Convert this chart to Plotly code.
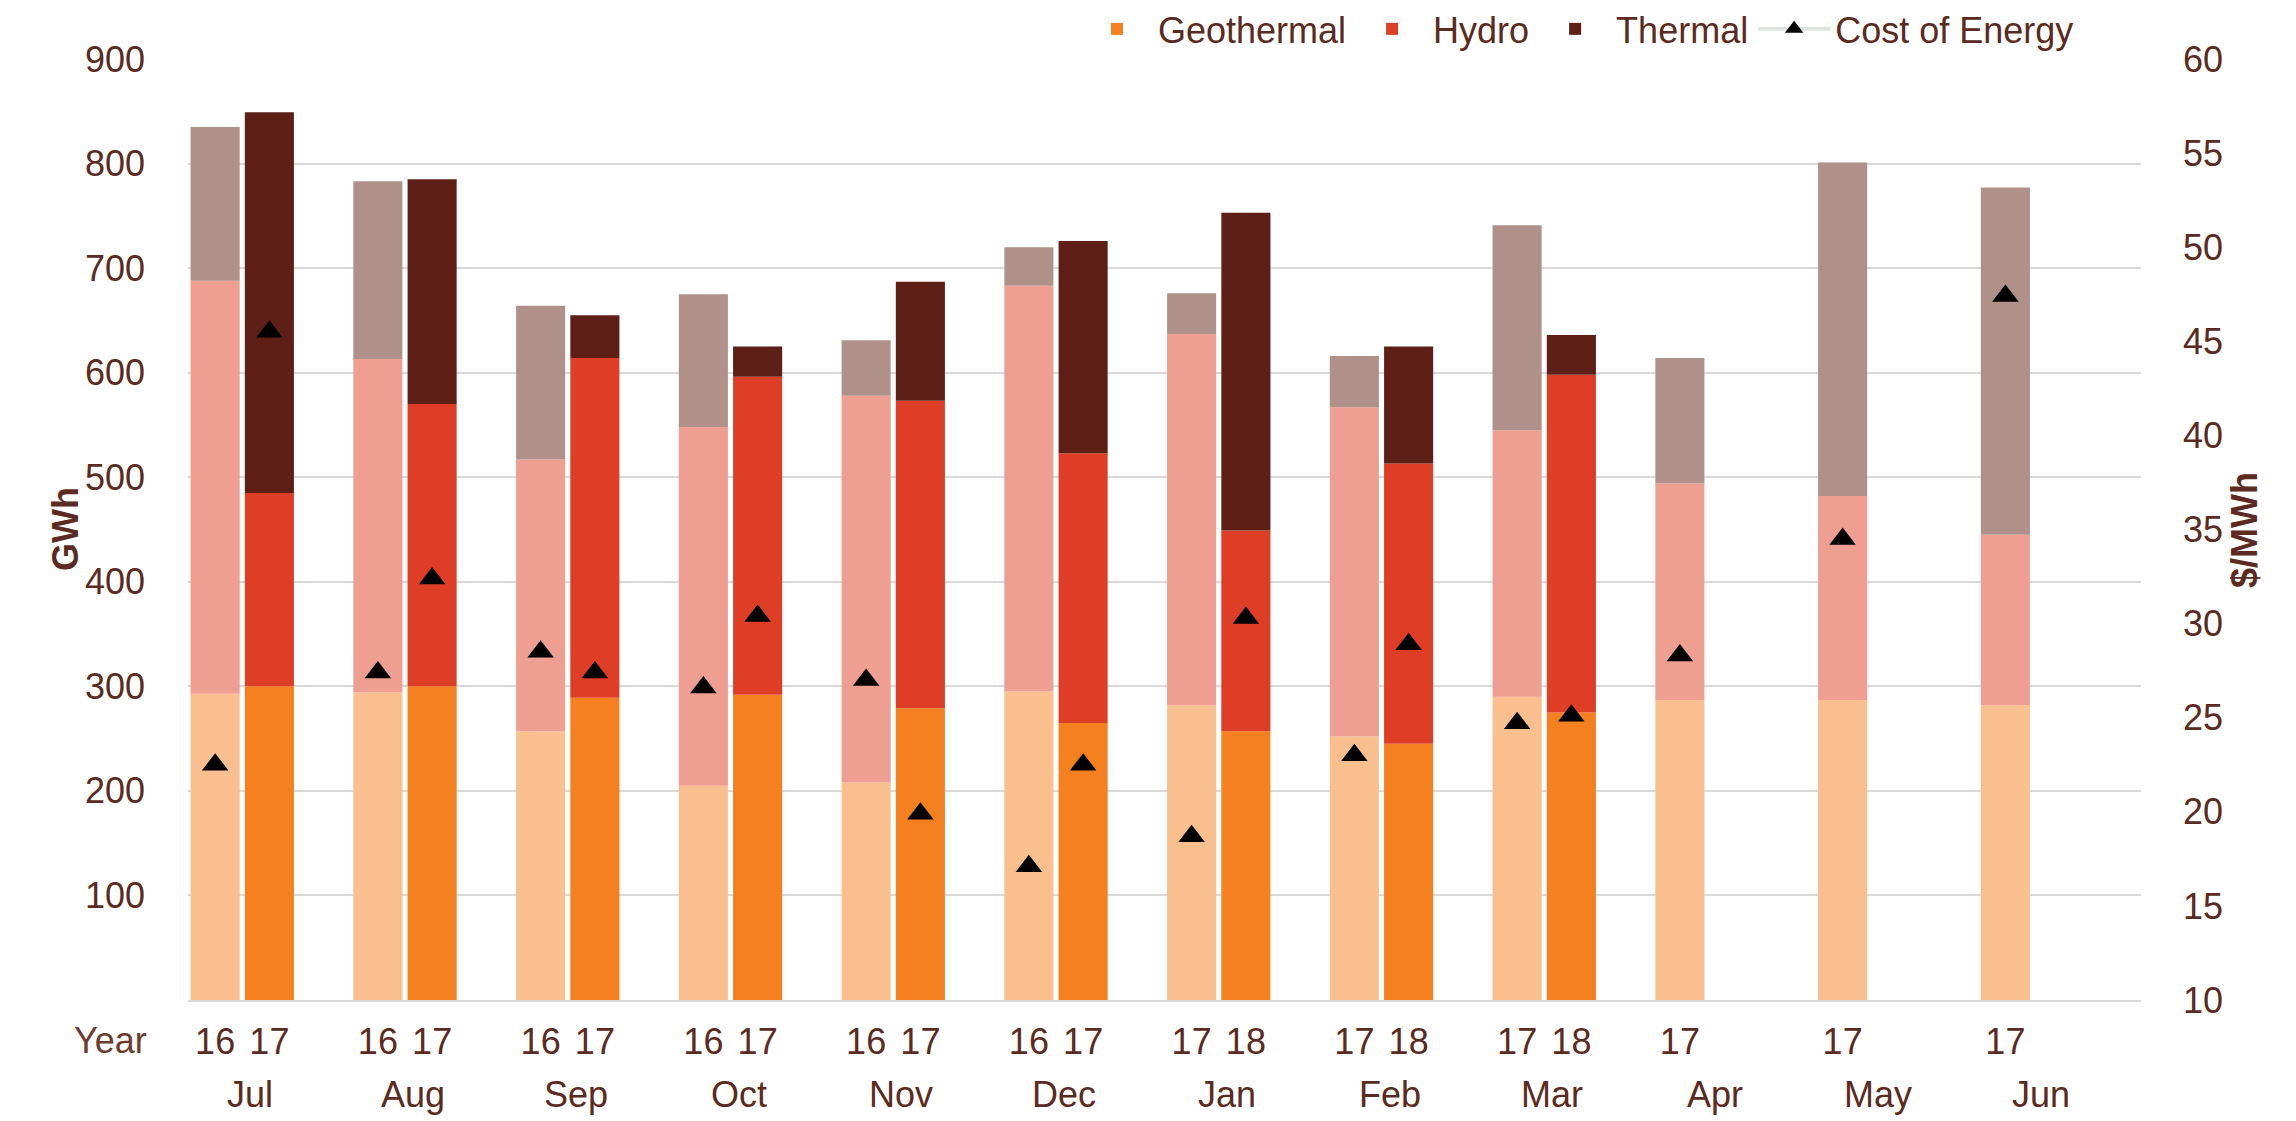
import plotly.graph_objects as go

# categories
months = ["Jul", "Aug", "Sep", "Oct", "Nov", "Dec", "Jan", "Feb", "Mar", "Apr", "May", "Jun"]
year_prev = ["16", "16", "16", "16", "16", "16", "17", "17", "17", "17", "17", "17"]
year_cur = ["17", "17", "17", "17", "17", "17", "18", "18", "18", "", "", ""]

# generation, GWh (previous year)
geo_prev = [293, 294, 257, 205, 208, 295, 282, 252, 290, 287, 287, 282]
hydro_prev = [395, 319, 260, 343, 370, 388, 355, 315, 255, 207, 195, 163]
thermal_prev = [147, 170, 147, 127, 53, 37, 39, 49, 196, 120, 319, 332]

# generation, GWh (current year)
geo_cur = [300, 300, 289, 292, 279, 265, 257, 245, 275, None, None, None]
hydro_cur = [185, 270, 325, 304, 294, 258, 192, 268, 323, None, None, None]
thermal_cur = [364, 215, 41, 29, 114, 203, 304, 112, 38, None, None, None]

# cost of energy, $/MWh
cost_prev = [22.5, 27.4, 28.5, 26.6, 27.0, 17.1, 18.7, 23.0, 24.7, 28.3, 34.5, 47.4]
cost_cur = [45.5, 32.4, 27.4, 30.4, 19.9, 22.5, 30.3, 28.9, 25.1, None, None, None]

TXT = "#5C2A20"
FONT = "Liberation Sans, Arial, sans-serif"

# three slots per month: previous year, current year, spacer
slot_prev = [m + " a" for m in months]
slot_cur = [m + " b" for m in months]
slot_gap = [m + " c" for m in months]
slot_order = [s for trio in zip(slot_prev, slot_cur, slot_gap) for s in trio]

fig = go.Figure()

series = [
    ("Geothermal", geo_prev, geo_cur, "#F9BF8F", "#F5801F"),
    ("Hydro", hydro_prev, hydro_cur, "#EE9F91", "#DE3E25"),
    ("Thermal", thermal_prev, thermal_cur, "#B0918A", "#5E1F16"),
]
for name, prev, cur, light, dark in series:
    fig.add_trace(go.Bar(x=slot_prev, y=prev, name=name, marker_color=light,
                         marker_line_width=0, legendgroup=name, showlegend=False))
    fig.add_trace(go.Bar(x=slot_cur, y=cur, name=name, marker_color=dark,
                         marker_line_width=0, legendgroup=name))

fig.add_trace(go.Scatter(
    x=slot_prev + slot_cur, y=cost_prev + cost_cur, yaxis="y2", mode="markers",
    marker=dict(symbol="triangle-up", size=23, color="black"),
    name="Cost of Energy", legendgroup="cost", showlegend=False,
))
# legend entry: Excel style line + marker
fig.add_trace(go.Scatter(
    x=[None], y=[None], yaxis="y2", mode="lines+markers",
    line=dict(color="#DCE6E0", width=4),
    marker=dict(symbol="triangle-up", size=21, color="black"),
    name="Cost of Energy", legendgroup="cost",
))

annotations = []
for i, m in enumerate(months):
    annotations.append(dict(x=3 * i + 0.65, xref="x", y=-0.1004, yref="paper", text=m,
                            showarrow=False, yanchor="middle",
                            font=dict(size=36, color=TXT, family=FONT)))
annotations.append(dict(x=-0.0397, xref="paper", y=-0.0433, yref="paper", text="Year",
                        showarrow=False, xanchor="center", yanchor="middle",
                        font=dict(size=36, color="#6E3A2E", family=FONT)))
annotations.append(dict(x=-0.0742, xref="paper", y=0.5, yref="paper", text="<b>GWh</b>",
                        textangle=-90, showarrow=False,
                        font=dict(size=36, color=TXT, family=FONT)))
annotations.append(dict(x=1.0645, xref="paper", y=0.5, yref="paper", text="<b>$/MWh</b>",
                        textangle=-90, showarrow=False,
                        font=dict(size=36, color=TXT, family=FONT)))

# margins allow for the 8px page margin around the plot div
fig.update_layout(
    width=2296,
    height=1121,
    barmode="relative",
    bargap=0.095,
    plot_bgcolor="white",
    paper_bgcolor="white",
    font=dict(family=FONT, size=36, color=TXT),
    margin=dict(l=180, r=163, t=46, b=129),
    xaxis=dict(
        type="category",
        categoryorder="array",
        categoryarray=slot_order,
        range=[-0.5, len(slot_order) - 0.5],
        tickvals=slot_prev + slot_cur,
        ticktext=year_prev + year_cur,
        ticks="",
        showgrid=False,
        showline=True,
        linecolor="#D9D9D9",
        linewidth=2,
        ticklabelstandoff=9,
        automargin=False,
        tickfont=dict(size=36, color=TXT),
    ),
    yaxis=dict(
        range=[0, 900],
        tickvals=[100, 200, 300, 400, 500, 600, 700, 800, 900],
        showgrid=True,
        gridcolor="#D9D9D9",
        gridwidth=2,
        zeroline=False,
        ticks="",
        ticklabelstandoff=42,
        automargin=False,
        tickfont=dict(size=36, color=TXT),
    ),
    yaxis2=dict(
        range=[10, 60],
        dtick=5,
        overlaying="y",
        side="right",
        showgrid=False,
        zeroline=False,
        ticks="",
        ticklabelstandoff=41,
        automargin=False,
        tickfont=dict(size=36, color=TXT),
    ),
    legend=dict(
        orientation="h",
        xref="container",
        yref="container",
        x=0.902,
        xanchor="right",
        y=0.9813,
        yanchor="middle",
        itemwidth=72,
        font=dict(size=36, color=TXT),
        bgcolor="rgba(0,0,0,0)",
        traceorder="normal",
    ),
    annotations=annotations,
)

fig.write_html("out.html")
